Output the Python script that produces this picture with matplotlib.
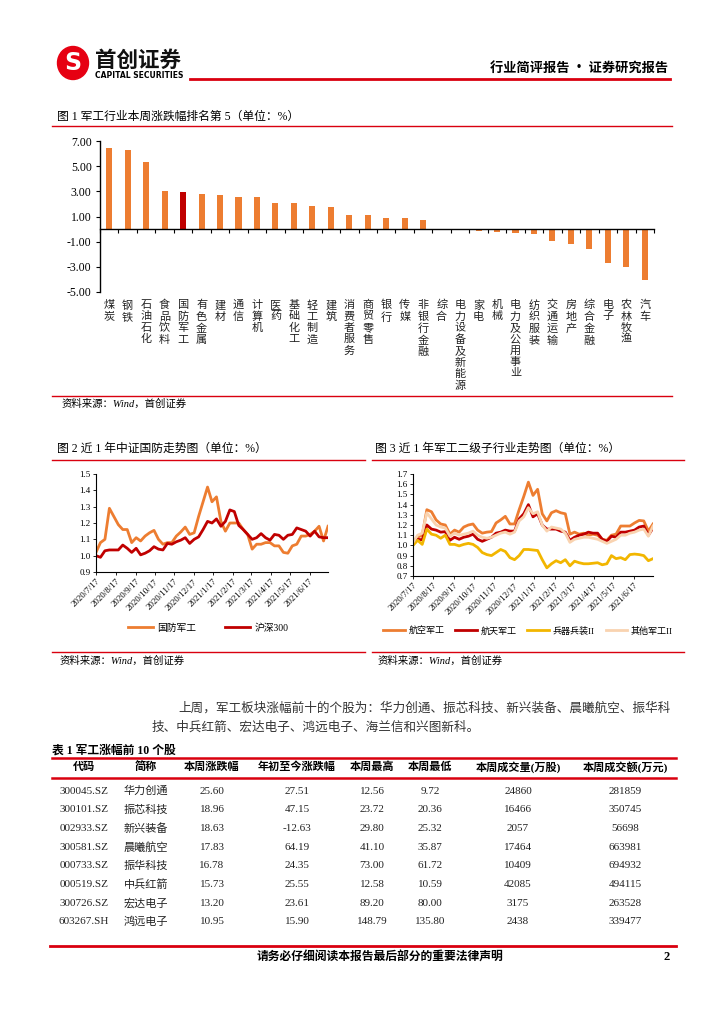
import matplotlib
matplotlib.use("Agg")
import matplotlib.pyplot as plt
from matplotlib import patches
from matplotlib.lines import Line2D
from matplotlib.ticker import FormatStrFormatter
from matplotlib.transforms import blended_transform_factory
import numpy as np
import pandas as pd

plt.rcParams['font.family'] = ['Noto Sans CJK SC', 'DejaVu Sans']
SERIF = ['Liberation Serif', 'Noto Sans CJK SC']

# ---- figure 1: weekly change by industry (%)
industries = ['煤炭', '钢铁', '石油石化', '食品饮料', '国防军工', '有色金属', '建材', '通信',
              '计算机', '医药', '基础化工', '轻工制造', '建筑', '消费者服务', '商贸零售', '银行',
              '传媒', '非银行金融', '综合', '电力设备及新能源', '家电', '机械', '电力及公用事业',
              '纺织服装', '交通运输', '房地产', '综合金融', '电子', '农林牧渔', '汽车']
weekly_change = [6.45, 6.28, 5.32, 3.03, 2.98, 2.79, 2.69, 2.57, 2.56, 2.11, 2.08, 1.84,
                 1.79, 1.11, 1.10, 0.92, 0.87, 0.74, 0.0, -0.08, -0.13, -0.22, -0.32,
                 -0.40, -0.95, -1.17, -1.57, -2.72, -2.99, -4.05]
highlight = '国防军工'

# ---- figures 2 and 3: weekly index trend, base 2020/7/17 = 1
start_date = '2020-07-17'
defense_index = [1.02, 1.08, 1.10, 1.29, 1.24, 1.19, 1.16, 1.16, 1.08, 1.11, 1.09, 1.12,
                 1.14, 1.155, 1.10, 1.07, 1.08, 1.08, 1.12, 1.145, 1.175, 1.13, 1.14, 1.24,
                 1.33, 1.42, 1.33, 1.36, 1.21, 1.15, 1.20, 1.20, 1.20, 1.16, 1.13, 1.04,
                 1.07, 1.07, 1.08, 1.08, 1.06, 1.06, 1.02, 1.015, 1.06, 1.07, 1.12, 1.12,
                 1.13, 1.15, 1.18, 1.09, 1.18]
hs300 = [1.00, 0.99, 1.03, 1.035, 1.035, 1.035, 1.065, 1.045, 1.02, 1.045, 1.005, 1.015,
         1.03, 1.055, 1.04, 1.035, 1.075, 1.07, 1.085, 1.095, 1.11, 1.075, 1.10, 1.115,
         1.16, 1.21, 1.20, 1.225, 1.18, 1.21, 1.28, 1.27, 1.185, 1.16, 1.13, 1.10,
         1.11, 1.135, 1.11, 1.095, 1.13, 1.125, 1.10, 1.125, 1.13, 1.17, 1.16, 1.15,
         1.12, 1.15, 1.115, 1.11, 1.11]
aviation = [1.03, 1.08, 1.10, 1.35, 1.33, 1.25, 1.21, 1.20, 1.11, 1.15, 1.13, 1.18,
            1.20, 1.21, 1.15, 1.12, 1.13, 1.135, 1.22, 1.25, 1.285, 1.21, 1.21, 1.35,
            1.48, 1.62, 1.49, 1.55, 1.31, 1.24, 1.32, 1.34, 1.32, 1.31, 1.11, 1.13,
            1.11, 1.12, 1.10, 1.11, 1.10, 1.06, 1.05, 1.10, 1.11, 1.19, 1.19, 1.19,
            1.22, 1.245, 1.24, 1.14, 1.21]
aerospace = [1.03, 1.06, 1.055, 1.20, 1.16, 1.15, 1.13, 1.135, 1.05, 1.08, 1.06, 1.08,
             1.09, 1.11, 1.06, 1.04, 1.06, 1.08, 1.12, 1.13, 1.15, 1.14, 1.14, 1.26,
             1.31, 1.40, 1.28, 1.31, 1.20, 1.16, 1.16, 1.16, 1.14, 1.13, 1.05, 1.08,
             1.10, 1.11, 1.13, 1.12, 1.12, 1.06, 1.04, 1.09, 1.08, 1.13, 1.13, 1.14,
             1.15, 1.18, 1.19, 1.10, 1.17]
weapons = [1.00, 1.05, 1.01, 1.16, 1.11, 1.10, 1.07, 1.10, 1.01, 1.01, 0.995, 1.01,
           1.02, 1.01, 0.98, 0.93, 0.91, 0.90, 0.93, 0.96, 0.94, 0.88, 0.86, 0.90,
           0.96, 0.96, 0.955, 0.95, 0.86, 0.78, 0.82, 0.85, 0.83, 0.86, 0.80, 0.845,
           0.83, 0.82, 0.82, 0.825, 0.83, 0.81, 0.82, 0.90, 0.87, 0.88, 0.86, 0.91,
           0.915, 0.91, 0.90, 0.85, 0.87]
other_military = [1.03, 1.10, 1.12, 1.32, 1.26, 1.20, 1.18, 1.17, 1.09, 1.12, 1.10, 1.11,
                  1.12, 1.14, 1.10, 1.08, 1.07, 1.08, 1.10, 1.12, 1.13, 1.11, 1.13, 1.24,
                  1.28, 1.37, 1.31, 1.33, 1.20, 1.14, 1.18, 1.17, 1.16, 1.12, 1.03, 1.06,
                  1.07, 1.08, 1.08, 1.07, 1.06, 1.04, 1.02, 1.04, 1.06, 1.10, 1.10, 1.12,
                  1.13, 1.15, 1.16, 1.09, 1.19]

# ---- table 1: top gainers
table_header = ['代码', '简称', '本周涨跌幅', '年初至今涨跌幅', '本周最高', '本周最低',
                '本周成交量(万股)', '本周成交额(万元)']
codes = ['300045.SZ', '300101.SZ', '002933.SZ', '300581.SZ', '000733.SZ', '000519.SZ',
         '300726.SZ', '603267.SH']
names = ['华力创通', '振芯科技', '新兴装备', '晨曦航空', '振华科技', '中兵红箭', '宏达电子', '鸿远电子']
week_chg = [25.60, 18.96, 18.63, 17.83, 16.78, 15.73, 13.20, 10.95]
ytd_chg = [27.51, 47.15, -12.63, 64.19, 24.35, 25.55, 23.61, 15.90]
week_high = [12.56, 23.72, 29.80, 41.10, 73.00, 12.58, 89.20, 148.79]
week_low = [9.72, 20.36, 25.32, 35.87, 61.72, 10.59, 80.00, 135.80]
volume = [24860, 16466, 2057, 17464, 10409, 42085, 3175, 2438]
amount = [281859, 350745, 56698, 663981, 694932, 494115, 263528, 339477]

ORANGE = '#ED7D31'
RED = '#C00000'
LINE_RED = '#D9000F'

W, H = 724, 1024
fig = plt.figure(figsize=(W / 100, H / 100), dpi=100)


def fx(x):
    return x / W


def fy(y):
    return 1 - y / H


def put(x, y, s, **kw):
    kw.setdefault('va', 'center')
    return fig.text(fx(x), fy(y), s, **kw)


def hline(x0, x1, y, color=LINE_RED, lw=1.0):
    fig.add_artist(Line2D([fx(x0), fx(x1)], [fy(y), fy(y)], color=color, lw=lw,
                          transform=fig.transFigure))


def axes_px(x0, y0, x1, y1):
    return fig.add_axes([fx(x0), fy(y1), (x1 - x0) / W, (y1 - y0) / H])


# header
fig.add_artist(patches.Ellipse((fx(73), fy(63)), 31 / W, 33 / H, color='#E60012',
                               transform=fig.transFigure))
put(73, 63, 'S', ha='center', color='white', fontsize=17, fontweight='bold',
    family='DejaVu Sans')
put(95, 60, '首创证券', fontsize=15.5, fontweight='bold', color='#111111')
put(95, 75, 'CAPITAL SECURITIES', fontsize=5.5, fontweight='bold', family='DejaVu Sans')
hline(190, 670, 79, lw=2.0)
put(668, 68, '行业简评报告 · 证券研究报告', ha='right', fontsize=9.5, fontweight='bold')

# figure 1
put(57, 117, '图 1 军工行业本周涨跌幅排名第 5（单位：%）', fontsize=8.5, family=SERIF)
hline(52, 672, 126, lw=1.0)

ax1 = axes_px(100, 141, 654, 292)
n = len(industries)
x = np.arange(n)
bar_colors = [RED if name == highlight else ORANGE for name in industries]
ax1.bar(x, weekly_change, width=0.33, color=bar_colors)
ax1.set_xlim(-0.5, n - 0.5)
ax1.set_ylim(-5, 7)
ax1.set_yticks(np.arange(-5, 8, 2))
ax1.yaxis.set_major_formatter(FormatStrFormatter('%.2f'))
for lab in ax1.get_yticklabels():
    lab.set_family(SERIF)
ax1.tick_params(axis='y', labelsize=8.5, length=3, width=0.8, pad=3)
ax1.spines['top'].set_visible(False)
ax1.spines['right'].set_visible(False)
ax1.spines['bottom'].set_position(('data', 0))
ax1.spines['left'].set_linewidth(1.0)
ax1.spines['bottom'].set_linewidth(1.0)
ax1.set_xticks(x)
ax1.set_xticklabels([])
ax1.set_xticks(np.arange(-0.5, n, 1), minor=True)
ax1.tick_params(axis='x', which='major', length=0)
ax1.tick_params(axis='x', which='minor', length=3, width=0.8, direction='out')
trans = blended_transform_factory(ax1.transData, ax1.transAxes)
for i, name in enumerate(industries):
    ax1.text(i, -8 / 151, '\n'.join(name), transform=trans, ha='center', va='top',
             fontsize=8, linespacing=1.17, color='#222222')

hline(52, 672, 396, lw=1.0)
put(62, 404, '资料来源：Wind，首创证券', fontsize=7.5, style='italic', family=SERIF)

# figures 2 and 3 titles
put(57, 449, '图 2 近 1 年中证国防走势图（单位：%）', fontsize=8.5, family=SERIF)
put(375, 449, '图 3 近 1 年军工二级子行业走势图（单位：%）', fontsize=8.5, family=SERIF)
hline(52, 365, 460)
hline(372, 684, 460)

dates = pd.date_range(start_date, periods=len(defense_index), freq='7D')
month_ticks = pd.date_range(start_date, periods=12, freq=pd.DateOffset(months=1))
month_labels = [f'{d.year}/{d.month}/{d.day}' for d in month_ticks]


def style_line_axes(ax, ylo, yhi):
    ax.set_xlim(dates[0], dates[-1])
    ax.set_ylim(ylo, yhi)
    ax.set_yticks(np.round(np.arange(ylo, yhi + 0.01, 0.1), 1))
    ax.yaxis.set_major_formatter(FormatStrFormatter('%.1f'))
    ax.set_xticks(month_ticks)
    ax.set_xticklabels(month_labels, rotation=45, ha='right', rotation_mode='anchor')
    for lab in ax.get_xticklabels() + ax.get_yticklabels():
        lab.set_family(SERIF)
    ax.tick_params(axis='both', labelsize=6.5, length=2, width=0.6, pad=2)
    ax.spines['top'].set_visible(False)
    ax.spines['right'].set_visible(False)
    ax.spines['left'].set_linewidth(0.8)
    ax.spines['bottom'].set_linewidth(0.8)


ax2 = axes_px(96, 474, 328, 572)
ax2.plot(dates, defense_index, color=ORANGE, lw=2.0, label='国防军工')
ax2.plot(dates, hs300, color=RED, lw=2.0, label='沪深300')
style_line_axes(ax2, 0.9, 1.5)
ax2.legend(loc='center', bbox_to_anchor=(fx(208), fy(628)), bbox_transform=fig.transFigure,
           ncol=2, frameon=False, handlelength=2.6, columnspacing=3.0, handletextpad=0.4,
           prop={'family': SERIF, 'size': 7})

ax3 = axes_px(413, 474, 653, 576)
ax3.plot(dates, aviation, color=ORANGE, lw=2.0, label='航空军工')
ax3.plot(dates, aerospace, color=RED, lw=2.0, label='航天军工')
ax3.plot(dates, weapons, color='#F2B600', lw=2.0, label='兵器兵装II')
ax3.plot(dates, other_military, color='#F9D3B0', lw=2.0, label='其他军工II')
style_line_axes(ax3, 0.7, 1.7)
ax3.legend(loc='center', bbox_to_anchor=(fx(528), fy(631)), bbox_transform=fig.transFigure,
           ncol=4, frameon=False, handlelength=2.4, columnspacing=1.2, handletextpad=0.4,
           prop={'family': SERIF, 'size': 6.5})

hline(52, 365, 652)
hline(372, 684, 652)
put(60, 661, '资料来源：Wind，首创证券', fontsize=7.5, style='italic', family=SERIF)
put(378, 661, '资料来源：Wind，首创证券', fontsize=7.5, style='italic', family=SERIF)

# paragraph
put(178, 708, '上周，军工板块涨幅前十的个股为：华力创通、振芯科技、新兴装备、晨曦航空、振华科',
    fontsize=9.05, color='#333333')
put(152, 727, '技、中兵红箭、宏达电子、鸿远电子、海兰信和兴图新科。', fontsize=9.05, color='#333333')

# table
put(52, 751, '表 1 军工涨幅前 10 个股', fontsize=8.5, fontweight='bold', family=SERIF)
hline(52, 676, 758, lw=1.8)
hline(52, 676, 778, lw=1.8)
col_x = [84, 146, 212, 297, 372, 430, 518, 625]
for cx, head in zip(col_x, table_header):
    put(cx, 767, head, ha='center', fontsize=8, fontweight='bold', family=SERIF)

row_y0, row_step = 791, 18.7
for r in range(len(codes)):
    y = row_y0 + r * row_step
    cells = [codes[r], names[r], f'{week_chg[r]:.2f}', f'{ytd_chg[r]:.2f}',
             f'{week_high[r]:.2f}', f'{week_low[r]:.2f}', f'{volume[r]}', f'{amount[r]}']
    for cx, cell in zip(col_x, cells):
        put(cx, y, cell, ha='center', fontsize=8, family=SERIF, color='#222222')

# footer
hline(50, 676, 946, lw=2.0)
put(380, 957, '请务必仔细阅读本报告最后部分的重要法律声明', ha='center', fontsize=8.5,
    fontweight='bold')
put(670, 957, '2', ha='right', fontsize=9, fontweight='bold', family=SERIF)

fig.savefig('out.png', dpi=100)
